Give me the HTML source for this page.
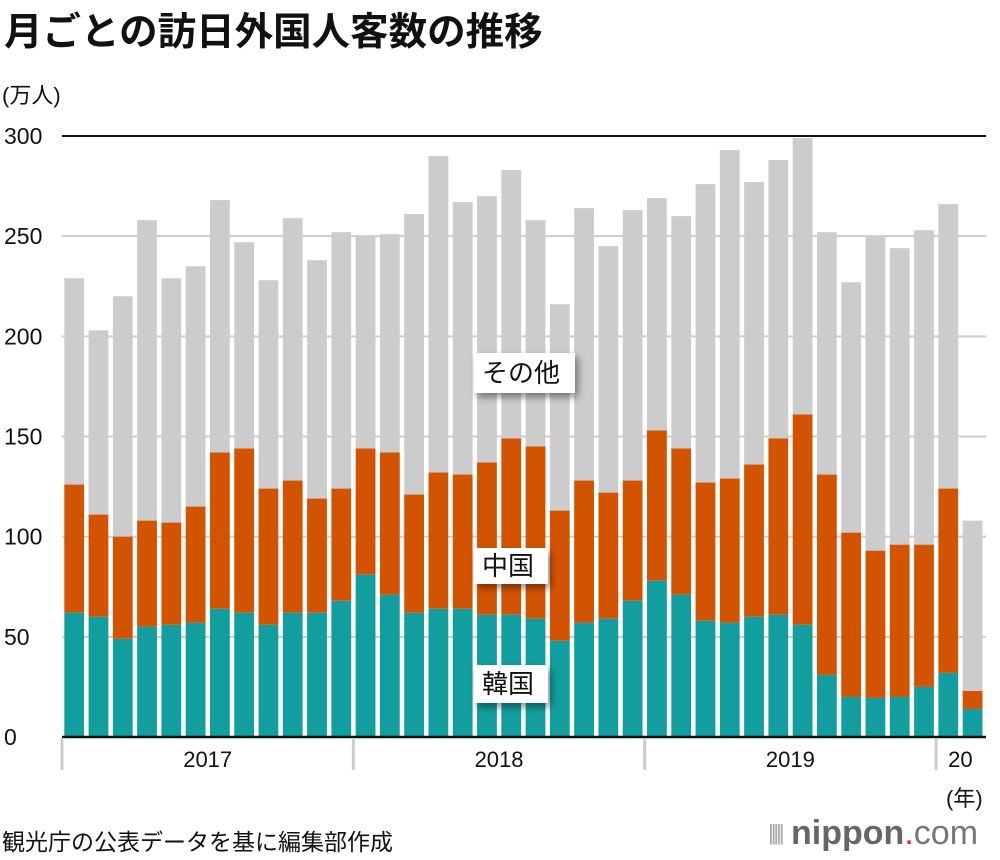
<!DOCTYPE html>
<html><head><meta charset="utf-8"><style>
body{margin:0;background:#fff;}
#wrap{position:relative;width:1000px;height:860px;overflow:hidden;font-family:"Liberation Sans","Noto Sans CJK JP",sans-serif;color:#111;}
.t{position:absolute;white-space:nowrap;}
</style></head><body>
<div id="wrap">
<div class="t" style="left:4px;top:1px;font-size:38.5px;font-weight:bold;">月ごとの訪日外国人客数の推移</div>
<div class="t" style="left:2px;top:78px;font-size:22px;">(万人)</div>
<svg id="chart" width="1000" height="860" style="position:absolute;left:0;top:0"></svg>
<div class="t" style="left:2px;top:823px;font-size:23px;">観光庁の公表データを基に編集部作成</div>
<div class="t" style="left:946px;top:781px;font-size:22px;">(年)</div>
<div class="t" style="left:768px;top:814px;font-size:34px;color:#666;"><span style="font-size:22px;letter-spacing:-3px;color:#aaa;vertical-align:4px">|||||</span> <b style="color:#666">nippon</b><span style="color:#e22">.</span><span style="color:#777">com</span></div>
</div>
<script>
var months=38;
var korea=[62,60,49,55,56,57,64,62,56,62,62,68, 81,71,62,64,64,61,61,59,48,57,59,68, 78,71,58,57,60,61,56,31,20,19.5,20,25, 32,14];
var china=[126,111,100,108,107,115,142,144,124,128,119,124, 144,142,121,132,131,137,149,145,113,128,122,128, 153,144,127,129,136,149,161,131,102,93,96,96, 124,23];
var total=[229,203,220,258,229,235,268,247,228,259,238,252, 250,251,261,290,267,270,283,258,216,264,245,263, 269,260,276,293,277,288,299,252,227,250,244,253, 266,108];
var yTicks=[0,50,100,150,200,250,300];
var years=["2017","2018","2019","20"];
var yearStart=[0,12,24,36];
var svg=document.getElementById('chart');
var NS='http://www.w3.org/2000/svg';
function y(v){return 737-v*(601/300);}
function x(i){return 64.3+i*24.28;}
var bw=19.8;
function mk(tag,attrs){var e=document.createElementNS(NS,tag);for(var k in attrs)e.setAttribute(k,attrs[k]);svg.appendChild(e);return e;}
yTicks.forEach(function(t){
  var g=mk('line',{x1:62,x2:986,y1:y(t),y2:y(t),stroke:t==300?'#111':'#ccc','stroke-width':2});
  
  
  var tx=mk('text',{x:4,y:y(t)+8,'font-size':23,fill:'#111'});
  tx.textContent=t;
  
  
});
for(var i=0;i<months;i++){
  var r1=mk('rect',{x:x(i),y:y(total[i]),width:bw,height:y(china[i])-y(total[i]),fill:'#cccccc'});
  
  
  var r2=mk('rect',{x:x(i),y:y(china[i]),width:bw,height:y(korea[i])-y(china[i]),fill:'#d35400'});
  
  
  var r3=mk('rect',{x:x(i),y:y(korea[i]),width:bw,height:y(0)-y(korea[i]),fill:'#129e9e'});
  
  
}
var base=mk('line',{x1:62,x2:986,y1:737,y2:737,stroke:'#111','stroke-width':2.5});


years.forEach(function(lbl,k){
  var s=yearStart[k];
  var sx=x(s)-2.3;
  var sep=mk('line',{x1:sx,x2:sx,y1:738,y2:770,stroke:'#ccc','stroke-width':3});
  
  
  var n=Math.min(12,months-s);
  var cx=x(s)+(n*24.28)/2-2.3;
  var t=mk('text',{x:cx,y:767,'font-size':22,'text-anchor':'middle',fill:'#111'});
  t.textContent=lbl;
  
  
});
var defs=mk('defs',{});
defs.innerHTML='<filter id="sh" x="-20%" y="-20%" width="150%" height="170%"><feDropShadow dx="3" dy="4" stdDeviation="4" flood-color="#000" flood-opacity="0.45"/></filter>';
var labels=[["その他",474,353,101,40],["中国",474,548,74,36],["韓国",474,665,74,38]];
labels.forEach(function(l){
  var b=mk('rect',{x:l[1],y:l[2],width:l[3],height:l[4],fill:'#fff',filter:'url(#sh)'});
  
  
  var t=mk('text',{x:l[1]+8,y:l[2]+l[4]/2+9,'font-size':26,fill:'#111'});
  t.textContent=l[0];
  
  
});
</script>
</body></html>
